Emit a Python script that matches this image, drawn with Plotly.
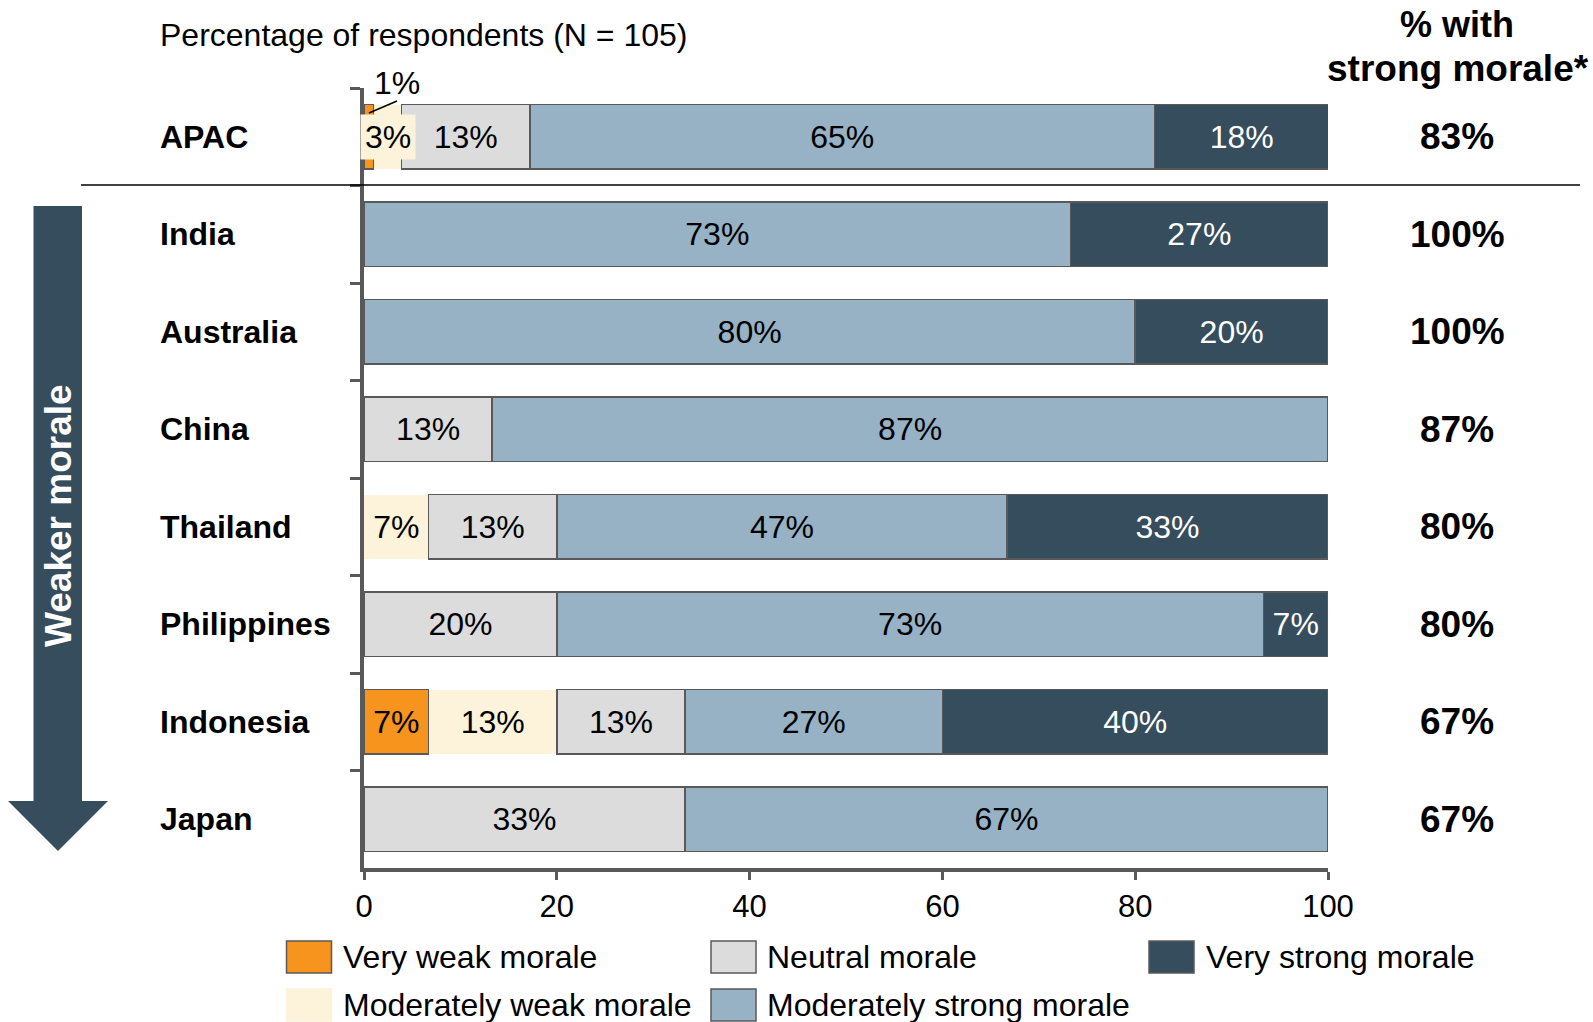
import plotly.graph_objects as go

# ---------------- data ----------------
categories = ["APAC", "India", "Australia", "China", "Thailand", "Philippines", "Indonesia", "Japan"]
series_names = ["Very weak morale", "Moderately weak morale", "Neutral morale",
                "Moderately strong morale", "Very strong morale"]
very_weak = [1.0, None, None, None, None, None, 6.7, None]
mod_weak = [2.9, None, None, None, 6.7, None, 13.3, None]
neutral = [13.3, None, None, 13.3, 13.3, 20.0, 13.3, 33.3]
mod_strong = [64.8, 73.3, 80.0, 86.7, 46.7, 73.3, 26.7, 66.7]
very_strong = [18.1, 26.7, 20.0, None, 33.3, 6.7, 40.0, None]
strong_total = ["83%", "100%", "100%", "87%", "80%", "80%", "67%", "67%"]
x_ticks = [0, 20, 40, 60, 80, 100]
apac_small_labels = ["1%", "3%"]

series_values = [very_weak, mod_weak, neutral, mod_strong, very_strong]
colors = ["#F7941E", "#FDF2DA", "#DCDCDC", "#97B1C5", "#364D5D"]
text_colors = ["black", "black", "black", "black", "white"]
outline = "#595959"
line_widths = [1.5, 0, 1.5, 1.5, 1.5]

FONT = "Liberation Sans, Arial, sans-serif"

# plot area geometry in page px (body margin removed via post_script)
W, H = 1593, 1022
L, R, T, B = 364, 1328, 88, 868


def px2x(px):
    return (px - L) / (R - L)


def px2y(py):
    return (B - py) / (B - T)


fig = go.Figure()
for i, (name, vals) in enumerate(zip(series_names, series_values)):
    texts = []
    for j, v in enumerate(vals):
        if v is None or (categories[j] == "APAC" and i < 2):
            texts.append("")
        else:
            texts.append(f"{round(v)}%")
    fig.add_trace(go.Bar(
        y=categories, x=vals, name=name, orientation="h",
        marker=dict(color=colors[i],
                    line=dict(color=outline if line_widths[i] > 0 else colors[i],
                              width=line_widths[i])),
        text=texts, textposition="inside", insidetextanchor="middle",
        textangle=0, constraintext="none",
        textfont=dict(family=FONT, size=32, color=text_colors[i]),
        showlegend=False, hoverinfo="skip",
    ))

fig.update_layout(
    width=W, height=H, barmode="stack", bargap=0.34,
    margin=dict(l=L, r=W - R, t=T, b=H - B, pad=0),
    plot_bgcolor="white", paper_bgcolor="white",
    font=dict(family=FONT, size=32, color="black"),
    xaxis=dict(range=[0, 100], tickvals=x_ticks, ticks="outside", ticklen=8,
               tickwidth=3, tickcolor=outline, showline=True, linewidth=4,
               linecolor=outline, showgrid=False, zeroline=False,
               tickfont=dict(size=31, family=FONT), ticklabelstandoff=0),
    yaxis=dict(type="category", categoryarray=categories, range=[7.5, -0.5],
               showticklabels=False, ticks="outside", tickson="boundaries",
               ticklen=10, tickwidth=3, tickcolor=outline, showline=True,
               linewidth=4, linecolor=outline, showgrid=False, zeroline=False),
)

annotations = []
shapes = []

# country labels
for c in categories:
    annotations.append(dict(xref="paper", yref="y", x=px2x(158), y=c, xanchor="left",
                            yanchor="middle", text=c, showarrow=False,
                            font=dict(family=FONT, size=32, weight="bold")))
# strong morale totals
for c, s in zip(categories, strong_total):
    annotations.append(dict(xref="paper", yref="y", x=px2x(1457), y=c, xanchor="center",
                            yanchor="middle", text=s, showarrow=False,
                            font=dict(family=FONT, size=37, weight="bold")))
# header
annotations.append(dict(xref="paper", yref="paper", x=px2x(1457), y=px2y(24),
                        xanchor="center", yanchor="middle", text="% with", showarrow=False,
                        font=dict(family=FONT, size=36, weight="bold")))
annotations.append(dict(xref="paper", yref="paper", x=px2x(1458), y=px2y(68),
                        xanchor="center", yanchor="middle", text="strong morale*",
                        showarrow=False, font=dict(family=FONT, size=37, weight="bold")))
# subtitle
annotations.append(dict(xref="paper", yref="paper", x=px2x(158), y=px2y(35),
                        xanchor="left", yanchor="middle",
                        text="Percentage of respondents (N = 105)", showarrow=False,
                        font=dict(family=FONT, size=32)))
# APAC small labels
annotations.append(dict(xref="paper", yref="paper", x=px2x(397), y=px2y(83),
                        xanchor="center", yanchor="middle", text=apac_small_labels[0],
                        showarrow=False, font=dict(family=FONT, size=32)))
annotations.append(dict(xref="x", yref="y", x=2.5, y=0, xanchor="center",
                        yanchor="middle", text=apac_small_labels[1], showarrow=False,
                        bgcolor=colors[1], borderpad=4,
                        font=dict(family=FONT, size=32)))
shapes.append(dict(type="line", xref="paper", yref="paper",
                   x0=px2x(369), y0=px2y(113), x1=px2x(397), y1=px2y(101),
                   line=dict(color="black", width=1.5)))

# separator line
shapes.append(dict(type="line", xref="paper", yref="paper", x0=px2x(81), x1=px2x(1580),
                   y0=px2y(185), y1=px2y(185), line=dict(color="black", width=1.5)))

# arrow "Weaker morale"
ax0, ax1, atop, ahead, hx0, hx1, tipx, tipy = 33.5, 82, 206, 801, 8, 108, 58, 851
pts = [(ax0, atop), (ax1, atop), (ax1, ahead), (hx1, ahead), (tipx, tipy),
       (hx0, ahead), (ax0, ahead)]
path = "M " + " L ".join(f"{px2x(a):.5f},{px2y(b):.5f}" for a, b in pts) + " Z"
shapes.append(dict(type="path", xref="paper", yref="paper", path=path,
                   fillcolor=colors[4], line=dict(width=0)))
annotations.append(dict(xref="paper", yref="paper", x=px2x(58), y=px2y(516),
                        xanchor="center", yanchor="middle", text="Weaker morale",
                        textangle=-90, showarrow=False,
                        font=dict(family=FONT, size=37, weight="bold", color="white")))

# legend (manual)
col_sq = [286.5, 711, 1149]
col_tx = [341, 765, 1204]
row_y = [957, 1005]
for i, (name, col) in enumerate(zip(series_names, colors)):
    c, r = i // 2, i % 2
    shapes.append(dict(type="rect", xref="paper", yref="paper",
                       x0=px2x(col_sq[c]), x1=px2x(col_sq[c] + 45),
                       y0=px2y(row_y[r] - 16), y1=px2y(row_y[r] + 16),
                       fillcolor=col,
                       line=dict(color=outline if line_widths[i] > 0 else col,
                                 width=1.5)))
    annotations.append(dict(xref="paper", yref="paper", x=px2x(col_tx[c]), y=px2y(row_y[r]),
                            xanchor="left", yanchor="middle", text=name, showarrow=False,
                            font=dict(family=FONT, size=32)))

fig.update_layout(annotations=annotations, shapes=shapes)
fig.write_html("out.html", config={"displayModeBar": False},
               post_script="document.body.style.margin='0';document.body.style.overflow='hidden';")
